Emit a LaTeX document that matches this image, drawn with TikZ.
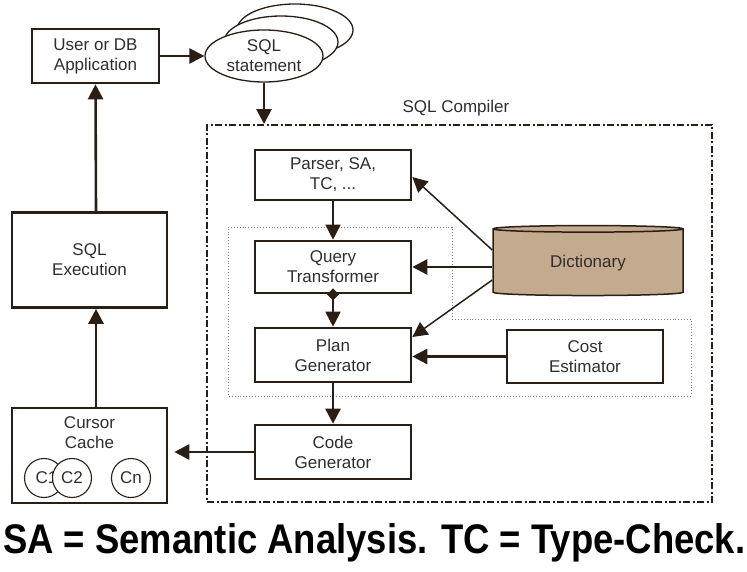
\documentclass[tikz,border=0pt]{standalone}
\usepackage{fontspec}
\setmainfont{Liberation Sans}
\usepackage{graphicx}
\usepackage{tikz}
\usetikzlibrary{shapes.geometric, arrows.meta}
\definecolor{ink}{RGB}{43,30,20}
\definecolor{txt}{RGB}{50,45,45}
\definecolor{dictfill}{RGB}{196,170,143}

\begin{document}
\begin{tikzpicture}[
  x=1pt, y=-1pt,
  font=\fontsize{17}{20}\selectfont,
  >={Triangle[length=15pt,width=15pt]},
  block/.style={rectangle, draw=ink, line width=2.6pt, fill=white, text=txt,
                minimum width=156pt, minimum height=52pt, align=center, inner sep=0pt},
  sideblock/.style={block, minimum width=155pt, minimum height=95pt},
  cursor/.style={circle, draw=ink, line width=1.1pt, fill=white, text=txt,
                 minimum size=39pt, inner sep=0pt},
  arrow/.style={->, draw=ink, line width=2.6pt},
  thinarrow/.style={->, draw=ink, line width=1.5pt}
]
\useasboundingbox (0,0) rectangle (747,572);

% --- Application side ---
\node[block, minimum width=127pt, minimum height=54pt] (user) at (95.5,56) {User or DB\\Application};
\node[sideblock] (exec) at (89.5,260) {SQL\\Execution};
\node[sideblock, text depth=45pt] (cache) at (89.5,455.5) {Cursor\\Cache};
\node[cursor] (c1) at (44,478) {\hspace*{5pt}C1};
\node[cursor] (c2) at (72,478) {C2};
\node[cursor] (cn) at (131,478) {Cn};

% --- SQL statement stack ---
\draw[ink, line width=1.3pt, fill=white] (295,30) ellipse [x radius=58, y radius=26];
\draw[ink, line width=1.3pt, fill=white] (281,42) ellipse [x radius=57, y radius=26];
\node[ellipse, draw=ink, line width=1.3pt, fill=white, text=txt, align=center,
      minimum width=118pt, minimum height=52pt, inner sep=0pt] (stmt) at (264,56) {SQL\\statement};

% --- SQL Compiler ---
\node[draw=ink, line width=1.9pt, dash pattern=on 7pt off 2.5pt on 2pt off 2.5pt,
      minimum width=505pt, minimum height=377pt] (compiler) at (459.5,313.5) {};
\node[text=txt] (title) at (456,108) {SQL Compiler};
\draw[gray, dotted, line width=0.9pt] (228,227) -- (452,227) -- (452,319) -- (691,319)
  -- (691,396) -- (228,396) -- cycle;

\node[block, minimum height=50pt] (parser) at (333,175) {Parser, SA,\\TC, ...};
\node[block] (qt) at (333,267) {Query\\Transformer};
\node[block, minimum height=54pt] (plangen) at (333,355) {Plan\\Generator};
\node[block, minimum height=54pt] (codegen) at (333,452) {Code\\Generator};
\node[block, minimum width=156pt, minimum height=53pt] (cost) at (585,356.5) {Cost\\Estimator};
\node[cylinder, shape border rotate=90, draw=ink, line width=1.5pt, fill=dictfill,
      text=txt, aspect=0.08, minimum width=190pt, minimum height=70pt] (dict) at (588,263) {Dictionary};

% --- arrows ---
\draw[arrow] (user.east |- stmt.west) -- (stmt.west);
\draw[arrow] (stmt.south) -- (stmt.south |- compiler.north);
\draw[thinarrow] (parser.south) -- (qt.north);
\draw[{Diamond[length=12pt,width=12pt]}-{Triangle[length=15pt,width=15pt]}, draw=ink, line width=2pt,
      shorten <=-6pt] (qt.south) -- (plangen.north);
\draw[arrow] (plangen.south) -- (codegen.north);
\draw[arrow, shorten >=6pt] (codegen.west) -- (codegen.west -| cache.east);
\draw[arrow] ([xshift=6.5pt]cache.north) -- ([xshift=6.5pt]exec.south);
\draw[arrow] ([xshift=6.5pt]exec.north) -- (user.south);
\draw[thinarrow] ([yshift=13pt]dict.west) -- ([yshift=-2pt]parser.east);
\draw[arrow] (dict.west |- qt) -- (qt);
\draw[thinarrow] ([yshift=-17pt]dict.west) -- ([yshift=18pt]plangen.east);
\draw[arrow] (cost) -- (cost -| plangen.east);

% --- caption ---
\node[anchor=base west, inner sep=0pt] (caption) at (3,553)
  {\resizebox{742pt}{30pt}{\bfseries SA = Semantic Analysis. TC = Type-Check.}};
\end{tikzpicture}
\end{document}
